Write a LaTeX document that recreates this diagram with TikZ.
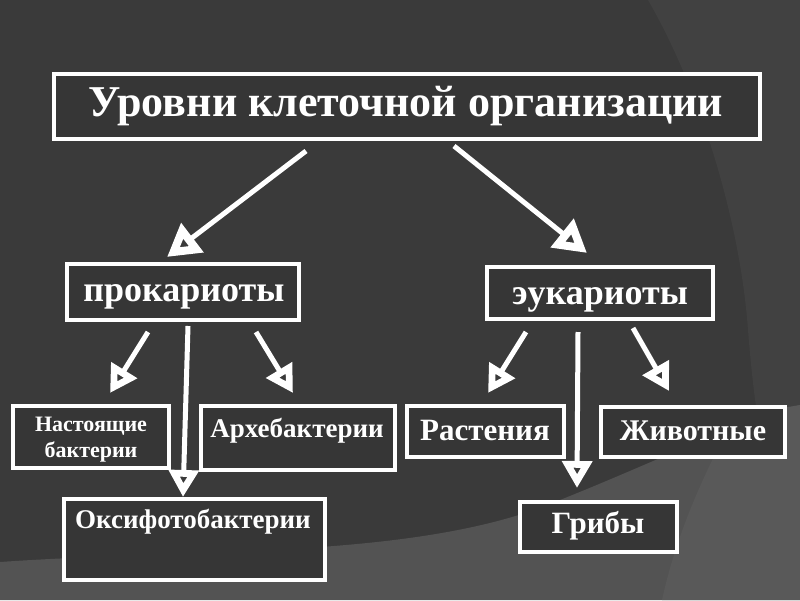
\documentclass[tikz,border=0pt]{standalone}
\usepackage{fontspec}
\setmainfont{Liberation Serif}
\usetikzlibrary{arrows.meta}
\definecolor{bgdark}{HTML}{3A3A3A}
\definecolor{bgright}{HTML}{414141}
\definecolor{bgband}{HTML}{535353}
\definecolor{bgband2}{HTML}{595959}
\definecolor{boxfill}{HTML}{363636}
\begin{document}
\begin{tikzpicture}[x=1pt,y=-1pt,
  box/.style={draw=white, line width=4pt, fill=boxfill, inner sep=0pt, outer sep=0pt},
  lbl/.style={text=white, anchor=base, inner sep=0pt},
  arr/.style={draw=white, line width=5pt, -{Triangle[open, length=32pt, width=35pt, line width=10pt]}},
  sarr/.style={draw=white, line width=5pt, -{Triangle[open, length=27pt, width=29pt, line width=8.5pt]}}
]
% background
\fill[bgdark] (0,0) rectangle (800,600);
\fill[bgright] (648,0) .. controls (700,90) and (740,220) .. (748,330) .. controls (752,380) and (756,410) .. (760,430) -- (800,420) -- (800,0) -- cycle;
\fill[bgband] (0,562) .. controls (200,548) and (420,560) .. (560,500) .. controls (660,460) and (740,420) .. (800,405) -- (800,600) -- (0,600) -- cycle;
\fill[bgband2] (735,416) .. controls (700,480) and (675,540) .. (662,600) -- (800,600) -- (800,405) -- cycle;
\useasboundingbox (0,0) rectangle (800,600);

% boxes
\node[box, minimum width=706pt, minimum height=65pt] (title) at (407,106.5) {};
\node[box, minimum width=232pt, minimum height=56pt] (pro) at (183,292) {};
\node[box, minimum width=226pt, minimum height=52pt] (euk) at (600,293) {};
\node[box, minimum width=156pt, minimum height=62pt] (nast) at (91,437) {};
\node[box, minimum width=194pt, minimum height=64pt] (arch) at (298,438) {};
\node[box, minimum width=261pt, minimum height=81pt] (oks) at (194.5,539.5) {};
\node[box, minimum width=157pt, minimum height=51pt] (rast) at (485.5,431.5) {};
\node[box, minimum width=184pt, minimum height=50pt] (zhiv) at (693,432) {};
\node[box, minimum width=157pt, minimum height=50pt] (grib) at (598.5,527) {};

% labels
\node[lbl, font=\bfseries\fontsize{44}{48}\selectfont] (ttitle) at (406,116) {Уровни клеточной организации};
\node[lbl, font=\bfseries\fontsize{36}{40}\selectfont] (tpro) at (184,301) {прокариоты};
\node[lbl, font=\bfseries\fontsize{36}{40}\selectfont] (teuk) at (600,304) {эукариоты};
\node[lbl, font=\bfseries\fontsize{22}{25}\selectfont] (tnast1) at (91,431) {Настоящие};
\node[lbl, font=\bfseries\fontsize{22}{25}\selectfont] (tnast2) at (91,457) {бактерии};
\node[lbl, font=\bfseries\fontsize{27}{30}\selectfont] (tarch) at (297,437) {Архебактерии};
\node[lbl, font=\bfseries\fontsize{27}{30}\selectfont] (toks) at (193,528) {Оксифотобактерии};
\node[lbl, font=\bfseries\fontsize{31}{34}\selectfont] (trast) at (485,440) {Растения};
\node[lbl, font=\bfseries\fontsize{30}{34}\selectfont] (tzhiv) at (693,440) {Животные};
\node[lbl, font=\bfseries\fontsize{31}{34}\selectfont] (tgrib) at (598,533) {Грибы};

% arrow end points
\coordinate (a1s) at (306,151); \coordinate (a1e) at (167,257);
\coordinate (a2s) at (454,146); \coordinate (a2e) at (587,253);
\coordinate (a3s) at (148,332); \coordinate (a3e) at (110,393);
\coordinate (a4s) at (188,326); \coordinate (a4e) at (183,497);
\coordinate (a5s) at (256,332); \coordinate (a5e) at (293,393);
\coordinate (a6s) at (526,332); \coordinate (a6e) at (488,393);
\coordinate (a7s) at (578,332); \coordinate (a7e) at (577,488);
\coordinate (a8s) at (633,328); \coordinate (a8e) at (669,391);

\draw[arr] (a1s) -- (a1e);
\draw[arr] (a2s) -- (a2e);
\draw[sarr] (a3s) -- (a3e);
\draw[sarr] (a4s) -- (a4e);
\draw[sarr] (a5s) -- (a5e);
\draw[sarr] (a6s) -- (a6e);
\draw[sarr] (a7s) -- (a7e);
\draw[sarr] (a8s) -- (a8e);
\end{tikzpicture}
\end{document}
